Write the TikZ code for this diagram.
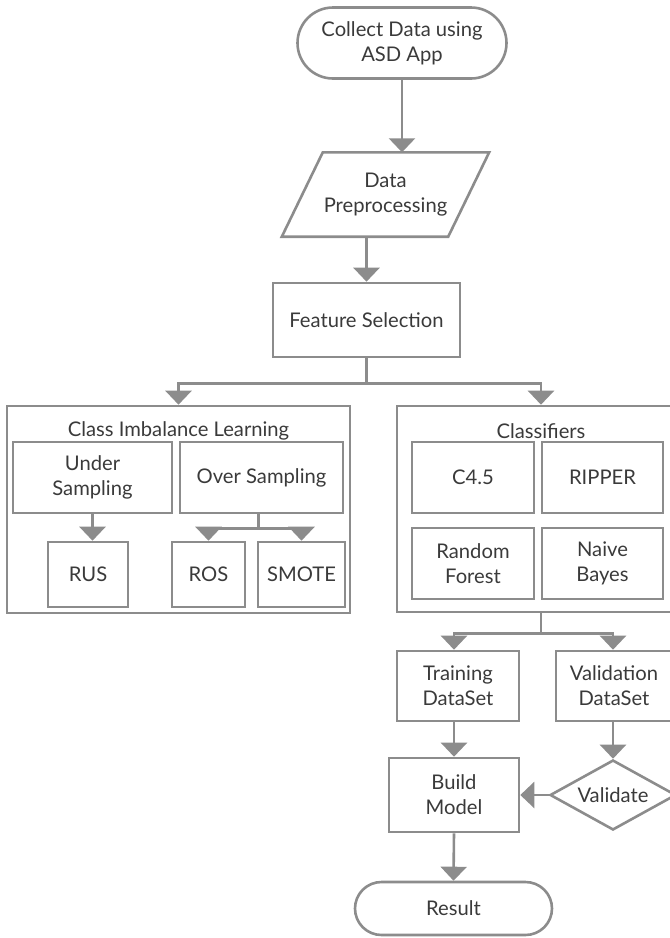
\documentclass[tikz,border=0pt]{standalone}
\usepackage{fontspec}
\setmainfont{Lato}
\usetikzlibrary{arrows.meta,shapes.geometric,shapes.misc,calc}
\definecolor{ln}{HTML}{8C8C8C}
\definecolor{tx}{HTML}{3A3A3A}
\begin{document}
\begin{tikzpicture}[x=1pt,y=-1pt,
  every node/.style={font=\fontsize{20.2}{25}\selectfont,text=tx,align=center,inner sep=0pt},
  box/.style={draw=ln,line width=2.6pt,rectangle},
  term/.style={draw=ln,line width=2.6pt,rounded rectangle},
  conn/.style={draw=ln,line width=2.6pt},
  arr/.style={conn,-{Triangle[width=26pt,length=14pt,fill=ln]}}
]
\useasboundingbox (0,0) rectangle (670,938);
\clip (0,0) rectangle (670,938);

% top flow
\node[term,minimum width=209pt,minimum height=71pt] (start) at (402,43) {Collect Data using\\ASD App};
\node[minimum width=207pt,minimum height=84pt] (para) at (385.5,194.5) {Data\\Preprocessing};
\draw[conn] (para.south west) -- ($(para.north west)+(41,0)$) -- (para.north east) -- ($(para.south east)+(-41,0)$) -- cycle;
\node[box,minimum width=187pt,minimum height=74pt] (fs) at (366.5,320) {Feature Selection};

\draw[arr] (start.south) -- (start.south |- para.north);
\draw[arr] (fs.north |- para.south) -- (fs.north);

% containers
\node[box,minimum width=343pt,minimum height=207pt] (cil) at (178.5,509.5) {};
\node[box,minimum width=288pt,minimum height=206pt] (cls) at (541,509) {};
\node (cilt) at (178.5,431) {Class Imbalance Learning};
\node (clst) at (541,431) {Classifiers};

\coordinate (fsb) at ($(fs.south)+(0,25)$);
\draw[conn] (fs.south) -- (fsb);
\draw[arr] (fsb) -| (cil.north);
\draw[arr] (fsb) -| (cls.north);

% class imbalance content
\node[box,minimum width=159pt,minimum height=71pt] (us) at (92.5,477.5) {Under\\Sampling};
\node[box,minimum width=163pt,minimum height=71pt] (os) at (261.5,477.5) {Over Sampling};
\node[box,minimum width=80pt,minimum height=65pt] (rus) at (88,574.5) {RUS};
\node[box,minimum width=73pt,minimum height=65pt] (ros) at (208.5,574.5) {ROS};
\node[box,minimum width=87pt,minimum height=65pt] (smote) at (301.5,574.5) {SMOTE};

\draw[arr] (us.south) -- (us.south |- rus.north);
\coordinate (osb) at ($(os.south)+(-3,14)$);
\draw[conn] (osb |- os.south) -- (osb);
\draw[arr] (osb) -| (ros.north);
\draw[arr] (osb) -| (smote.north);

% classifiers content
\node[box,minimum width=122pt,minimum height=71pt] (c45) at (473,477.5) {C4.5};
\node[box,minimum width=121pt,minimum height=71pt] (ripper) at (602.5,477.5) {RIPPER};
\node[box,minimum width=122pt,minimum height=71pt] (rf) at (473,563.5) {Random\\Forest};
\node[box,minimum width=121pt,minimum height=71pt] (nb) at (602.5,563.5) {Naive\\Bayes};

% lower flow
\node[box,minimum width=122pt,minimum height=70pt] (train) at (458,686) {Training\\DataSet};
\node[box,minimum width=116pt,minimum height=70pt] (valds) at (614,686) {Validation\\DataSet};
\node[box,minimum width=130pt,minimum height=74pt] (build) at (454,795) {Build\\Model};
\node[diamond,draw=ln,line width=2.6pt,shape aspect=1.8,minimum width=126pt,minimum height=70pt] (val) at (613,795) {Validate};
\node[term,minimum width=197pt,minimum height=53pt] (result) at (453.5,908.5) {Result};

\coordinate (clsb) at ($(cls.south)+(0,20)$);
\draw[conn] (cls.south) -- (clsb);
\draw[arr] (clsb) -| (build.north |- train.north);
\draw[arr] (clsb) -| (val.north |- valds.north);
\draw[arr] (build.north |- train.south) -- (build.north);
\draw[arr] (val.north |- valds.south) -- (val.north);
\draw[arr] (val.west) -- (build.east);
\draw[arr] (build.south) -- (result.north);
\end{tikzpicture}
\end{document}
